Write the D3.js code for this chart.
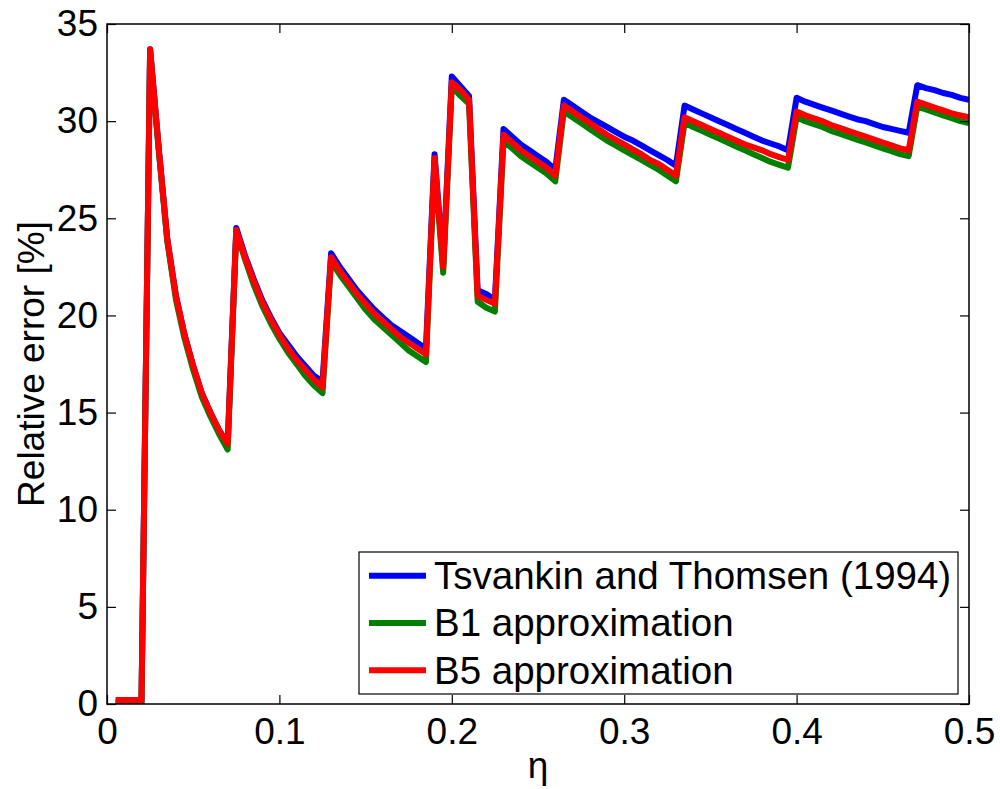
<!DOCTYPE html>
<html>
<head>
<meta charset="utf-8">
<script src="https://cdn.jsdelivr.net/npm/d3@7"></script>
<style>
  body { margin: 0; background: #fff; }
  text { font-family: "Liberation Sans", Arial, sans-serif; fill: #000; }
</style>
</head>
<body>
<div id="chart"></div>
<script>
// eta samples (x axis)
const eta = [
  0.005, 0.010, 0.015, 0.020, 0.025, 0.030, 0.035, 0.040, 0.045, 0.050,
  0.055, 0.060, 0.065, 0.070, 0.075, 0.080, 0.085, 0.090, 0.095, 0.100,
  0.105, 0.110, 0.115, 0.120, 0.125, 0.130, 0.135, 0.140, 0.145, 0.150,
  0.155, 0.160, 0.165, 0.170, 0.175, 0.180, 0.185, 0.190, 0.195, 0.200,
  0.205, 0.210, 0.215, 0.220, 0.225, 0.230, 0.235, 0.240, 0.245, 0.250,
  0.255, 0.260, 0.265, 0.270, 0.275, 0.280, 0.285, 0.290, 0.295, 0.300,
  0.305, 0.310, 0.315, 0.320, 0.325, 0.330, 0.335, 0.340, 0.345, 0.350,
  0.355, 0.360, 0.365, 0.370, 0.375, 0.380, 0.385, 0.390, 0.395, 0.400,
  0.405, 0.410, 0.415, 0.420, 0.425, 0.430, 0.435, 0.440, 0.445, 0.450,
  0.455, 0.460, 0.465, 0.470, 0.475, 0.480, 0.485, 0.490, 0.495, 0.500
];

// Tsvankin and Thomsen (1994)
const tsvankin = [
  0.1, 0.1, 0.1, 0.1,
  33.7, 28.6, 23.9, 21.0, 19.0, 17.4, 16.0, 15.0, 14.1, 13.4,
  24.5, 23.1, 21.9, 20.8, 19.9, 19.1, 18.5, 17.9, 17.4, 16.9, 16.6,
  23.2, 22.5, 21.9, 21.3, 20.8, 20.3, 19.9, 19.5, 19.2, 18.9, 18.6, 18.3,
  28.3, 22.6, 32.3, 31.8, 31.3, 21.3, 21.1, 20.8,
  29.6, 29.2, 28.8, 28.5, 28.2, 27.9, 27.5,
  31.1, 30.8, 30.5, 30.2, 29.95, 29.7, 29.45, 29.2, 29.0, 28.75, 28.5, 28.25, 28.0, 27.7,
  30.8, 30.6, 30.4, 30.2, 30.0, 29.8, 29.6, 29.4, 29.2, 29.0, 28.85, 28.7, 28.5,
  31.2, 31.0, 30.85, 30.7, 30.55, 30.4, 30.25, 30.1, 30.0, 29.85, 29.7, 29.6, 29.5, 29.4,
  31.85, 31.7, 31.6, 31.45, 31.35, 31.2, 31.1
];

// B1 approximation
const b1 = [
  0, 0, 0, 0,
  33.6, 28.5, 23.8, 20.8, 18.8, 17.2, 15.8, 14.8, 13.9, 13.1,
  24.3, 22.9, 21.6, 20.5, 19.6, 18.8, 18.1, 17.5, 16.9, 16.4, 16.0,
  22.8, 22.1, 21.5, 20.9, 20.3, 19.8, 19.4, 19.0, 18.6, 18.2, 17.9, 17.6,
  27.9, 22.2, 31.8, 31.3, 30.9, 20.7, 20.4, 20.2,
  29.0, 28.6, 28.2, 27.9, 27.6, 27.3, 26.9,
  30.5, 30.2, 29.9, 29.6, 29.3, 29.0, 28.75, 28.5, 28.25, 28.0, 27.75, 27.5, 27.2, 26.9,
  29.9, 29.7, 29.5, 29.3, 29.1, 28.9, 28.7, 28.5, 28.3, 28.1, 27.9, 27.75, 27.6,
  30.2, 30.0, 29.85, 29.7, 29.5, 29.35, 29.2, 29.05, 28.9, 28.75, 28.6, 28.45, 28.3, 28.2,
  30.75, 30.6, 30.45, 30.3, 30.15, 30.0, 29.9
];

// B5 approximation
const b5 = [
  0.2, 0.2, 0.2, 0.2,
  33.7, 28.6, 23.9, 21.0, 19.0, 17.4, 16.0, 15.0, 14.1, 13.4,
  24.4, 23.0, 21.8, 20.7, 19.8, 19.0, 18.3, 17.7, 17.2, 16.7, 16.3,
  23.0, 22.3, 21.7, 21.1, 20.6, 20.1, 19.7, 19.3, 18.9, 18.6, 18.3, 18.0,
  28.1, 22.5, 32.0, 31.6, 31.1, 21.0, 20.8, 20.6,
  29.3, 28.9, 28.5, 28.2, 27.9, 27.6, 27.2,
  30.8, 30.5, 30.2, 29.9, 29.6, 29.3, 29.05, 28.8, 28.55, 28.3, 28.0, 27.8, 27.5, 27.2,
  30.2, 30.0, 29.8, 29.6, 29.4, 29.2, 29.0, 28.8, 28.65, 28.5, 28.3, 28.15, 28.0,
  30.5, 30.3, 30.15, 30.0, 29.8, 29.65, 29.5, 29.35, 29.2, 29.05, 28.9, 28.75, 28.6, 28.5,
  31.0, 30.85, 30.7, 30.55, 30.4, 30.3, 30.2
];

const seriesNames = ["Tsvankin and Thomsen (1994)", "B1 approximation", "B5 approximation"];
const seriesColors = ["#0000ff", "#008000", "#ff0000"];
const xTicks = [0, 0.1, 0.2, 0.3, 0.4, 0.5];
const yTicks = [0, 5, 10, 15, 20, 25, 30, 35];

const width = 1000;
const height = 789;
const margin = {left: 107, right: 31, top: 24, bottom: 85};
const fontSize = 37;

const svg = d3.select("#chart")
  .append("svg")
  .attr("width", width)
  .attr("height", height);

const x = d3.scaleLinear().domain([0, 0.5]).range([margin.left, width - margin.right]);
const y = d3.scaleLinear().domain([0, 35]).range([height - margin.bottom, margin.top]);

// clip to the axes box
svg.append("clipPath").attr("id", "plotclip")
  .append("rect")
  .attr("x", x(0)).attr("y", y(35))
  .attr("width", x(0.5) - x(0)).attr("height", y(0) - y(35));

const series = [tsvankin, b1, b5];
const line = d3.line().x(d => x(d[0])).y(d => y(d[1]));

const plot = svg.append("g").attr("clip-path", "url(#plotclip)");
series.forEach((vals, i) => {
  plot.append("path")
    .datum(eta.map((e, j) => [e, vals[j]]))
    .attr("d", line)
    .attr("fill", "none")
    .attr("stroke", seriesColors[i])
    .attr("stroke-width", 6)
    .attr("stroke-linejoin", "round");
});

// ticks (inward, mirrored on all sides)
const tickLen = 9;
const fmtX = d => d === 0 ? "0" : d3.format(".1f")(d);
const axB = svg.append("g").attr("transform", `translate(0,${y(0)})`)
  .call(d3.axisBottom(x).tickValues(xTicks).tickSizeInner(-tickLen).tickSizeOuter(0).tickPadding(14).tickFormat(fmtX));
const axT = svg.append("g").attr("transform", `translate(0,${y(35)})`)
  .call(d3.axisTop(x).tickValues(xTicks).tickSizeInner(-tickLen).tickSizeOuter(0).tickFormat(""));
const axL = svg.append("g").attr("transform", `translate(${x(0)},0)`)
  .call(d3.axisLeft(y).tickValues(yTicks).tickSizeInner(-tickLen).tickSizeOuter(0).tickPadding(9));
const axR = svg.append("g").attr("transform", `translate(${x(0.5)},0)`)
  .call(d3.axisRight(y).tickValues(yTicks).tickSizeInner(-tickLen).tickSizeOuter(0).tickFormat(""));

[axB, axT, axL, axR].forEach(a => {
  a.select(".domain").remove();
  a.selectAll(".tick line").attr("stroke", "#000").attr("stroke-width", 1.2);
  a.selectAll("text").attr("font-size", fontSize).attr("font-family", "Liberation Sans, Arial, sans-serif").attr("fill", "#000");
});

// box
svg.append("rect")
  .attr("x", x(0)).attr("y", y(35))
  .attr("width", x(0.5) - x(0)).attr("height", y(0) - y(35))
  .attr("fill", "none").attr("stroke", "#000").attr("stroke-width", 1.5);

// axis titles
svg.append("text")
  .attr("x", (x(0) + x(0.5)) / 2).attr("y", 778)
  .attr("text-anchor", "middle")
  .attr("font-size", fontSize)
  .text("η");

svg.append("text")
  .attr("transform", `translate(44,${(y(0) + y(35)) / 2}) rotate(-90)`)
  .attr("text-anchor", "middle")
  .attr("font-size", fontSize)
  .text("Relative error [%]");

// legend
const lg = {x: 359, y: 552, w: 599, h: 142};
const legend = svg.append("g");
legend.append("rect")
  .attr("x", lg.x).attr("y", lg.y).attr("width", lg.w).attr("height", lg.h)
  .attr("fill", "#fff").attr("stroke", "#000").attr("stroke-width", 1.2);

const rowH = lg.h / 3;
seriesNames.forEach((name, i) => {
  const cy = lg.y + rowH * (i + 0.5);
  legend.append("line")
    .attr("x1", lg.x + 10).attr("x2", lg.x + 67)
    .attr("y1", cy).attr("y2", cy)
    .attr("stroke", seriesColors[i]).attr("stroke-width", 6);
  legend.append("text")
    .attr("x", lg.x + 75).attr("y", cy)
    .attr("dy", "0.35em")
    .attr("font-size", 38.5)
    .text(name);
});
</script>
</body>
</html>
